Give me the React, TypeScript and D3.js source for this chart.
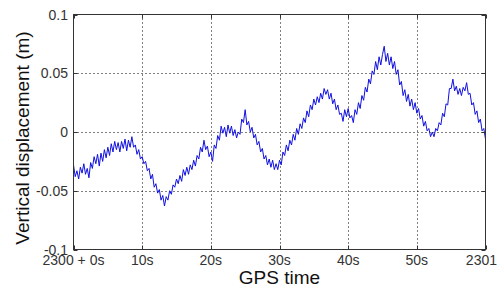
import React, { useRef, useEffect } from 'react';
import * as d3 from 'd3';

// sample step in seconds
const step = 0.25;

// vertical displacement (m), one value every 0.25 s from 2300+0s to 2301
const displacement: number[] = [
  -0.028, -0.038, -0.033, -0.040, -0.030, -0.035, -0.027, -0.036, -0.031, -0.039, -0.026, -0.031, -0.021, -0.027, -0.019, -0.029, -0.018, -0.025, -0.015, -0.022,
  -0.013, -0.020, -0.010, -0.017, -0.008, -0.015, -0.009, -0.017, -0.008, -0.014, -0.006, -0.016, -0.007, -0.013, -0.004, -0.013, -0.011, -0.019, -0.015, -0.023,
  -0.021, -0.027, -0.025, -0.033, -0.031, -0.040, -0.036, -0.047, -0.044, -0.052, -0.049, -0.058, -0.054, -0.063, -0.055, -0.058, -0.050, -0.053, -0.045, -0.047,
  -0.040, -0.044, -0.037, -0.042, -0.032, -0.037, -0.030, -0.036, -0.028, -0.032, -0.024, -0.029, -0.020, -0.023, -0.013, -0.017, -0.007, -0.015, -0.012, -0.021,
  -0.017, -0.025, -0.011, -0.014, -0.003, -0.007, 0.005, -0.001, 0.004, -0.004, 0.006, -0.001, 0.005, -0.003, 0.002, -0.005, 0.000, -0.002, 0.011, 0.008,
  0.019, 0.006, 0.009, 0.000, 0.004, -0.005, -0.002, -0.011, -0.008, -0.017, -0.014, -0.023, -0.020, -0.028, -0.023, -0.030, -0.024, -0.032, -0.027, -0.032,
  -0.024, -0.028, -0.017, -0.020, -0.011, -0.016, -0.007, -0.011, -0.002, -0.007, 0.003, -0.002, 0.007, 0.003, 0.012, 0.008, 0.018, 0.013, 0.023, 0.019,
  0.028, 0.023, 0.030, 0.025, 0.033, 0.028, 0.037, 0.032, 0.036, 0.028, 0.033, 0.024, 0.028, 0.019, 0.023, 0.015, 0.016, 0.009, 0.019, 0.013,
  0.020, 0.012, 0.014, 0.008, 0.019, 0.015, 0.025, 0.020, 0.031, 0.027, 0.038, 0.034, 0.045, 0.041, 0.052, 0.049, 0.060, 0.053, 0.064, 0.057,
  0.066, 0.073, 0.060, 0.067, 0.057, 0.064, 0.054, 0.060, 0.049, 0.053, 0.040, 0.043, 0.031, 0.036, 0.026, 0.032, 0.022, 0.028, 0.019, 0.025,
  0.016, 0.020, 0.011, 0.014, 0.005, 0.009, 0.001, 0.003, -0.004, 0.000, -0.004, 0.003, 0.001, 0.008, 0.006, 0.016, 0.013, 0.024, 0.023, 0.037,
  0.037, 0.045, 0.035, 0.039, 0.032, 0.037, 0.031, 0.038, 0.035, 0.042, 0.032, 0.033, 0.023, 0.025, 0.015, 0.018, 0.008, 0.011, 0.001, 0.003,
  -0.006,
];

const xTicks = [0, 10, 20, 30, 40, 50, 60];
const xTickLabels = ['2300 + 0s', '10s', '20s', '30s', '40s', '50s', '2301'];
const yTicks = [-0.1, -0.05, 0, 0.05, 0.1];
const yTickLabels = ['-0.1', '-0.05', '0', '0.05', '0.1'];

const App: React.FC = () => {
  const svgRef = useRef<SVGSVGElement>(null);

  useEffect(() => {
    if (!svgRef.current) return;
    const W = 498, H = 295;
    const left = 73.5, right = 485.5, top = 14.5, bottom = 249.5;

    const svg = d3.select(svgRef.current).attr('width', W).attr('height', H);
    svg.selectAll('*').remove();
    svg.append('rect').attr('width', W).attr('height', H).attr('fill', '#fff');

    const x = d3.scaleLinear().domain([0, 60]).range([left, right]);
    const y = d3.scaleLinear().domain([-0.1, 0.1]).range([bottom, top]);

    // dotted grid
    const grid = svg.append('g').attr('stroke', '#000').attr('stroke-dasharray', '1,3').attr('stroke-width', 1);
    xTicks.slice(1, -1).forEach(t => {
      grid.append('line').attr('x1', Math.round(x(t)) + 0.5).attr('x2', Math.round(x(t)) + 0.5)
        .attr('y1', top).attr('y2', bottom);
    });
    yTicks.slice(1, -1).forEach(v => {
      grid.append('line').attr('y1', Math.round(y(v)) + 0.5).attr('y2', Math.round(y(v)) + 0.5)
        .attr('x1', left).attr('x2', right);
    });

    // signal
    const line = d3.line<number>()
      .x((_, i) => x(i * step))
      .y(d => y(d));
    svg.append('path')
      .datum(displacement)
      .attr('d', line)
      .attr('fill', 'none')
      .attr('stroke', '#1010e0')
      .attr('stroke-width', 1);

    // box
    svg.append('rect')
      .attr('x', left).attr('y', top)
      .attr('width', right - left).attr('height', bottom - top)
      .attr('fill', 'none').attr('stroke', '#333').attr('stroke-width', 1);

    // inward ticks, MATLAB style
    const tk = svg.append('g').attr('stroke', '#333');
    xTicks.forEach(t => {
      const px = Math.round(x(t)) + 0.5;
      tk.append('line').attr('x1', px).attr('x2', px).attr('y1', bottom).attr('y2', bottom - 4);
      tk.append('line').attr('x1', px).attr('x2', px).attr('y1', top).attr('y2', top + 4);
    });
    yTicks.forEach(v => {
      const py = Math.round(y(v)) + 0.5;
      tk.append('line').attr('x1', left).attr('x2', left + 4).attr('y1', py).attr('y2', py);
      tk.append('line').attr('x1', right).attr('x2', right - 4).attr('y1', py).attr('y2', py);
    });

    const font = 'Liberation Sans, Arial, sans-serif';

    svg.append('g').selectAll('text')
      .data(xTicks)
      .enter().append('text')
      .attr('x', (d, i) => (i === xTicks.length - 1 ? 497 : x(d)))
      .attr('y', 265)
      .attr('text-anchor', (_, i) => (i === xTicks.length - 1 ? 'end' : 'middle'))
      .attr('font-family', font)
      .attr('font-size', 14)
      .attr('fill', '#333')
      .text((_, i) => xTickLabels[i]);

    svg.append('g').selectAll('text')
      .data(yTicks)
      .enter().append('text')
      .attr('x', 68)
      .attr('y', d => y(d) + 5)
      .attr('text-anchor', 'end')
      .attr('font-family', font)
      .attr('font-size', 14)
      .attr('fill', '#333')
      .text((_, i) => yTickLabels[i]);

    svg.append('text')
      .attr('x', (left + right) / 2)
      .attr('y', 284)
      .attr('text-anchor', 'middle')
      .attr('font-family', font)
      .attr('font-size', 19)
      .attr('fill', '#111')
      .text('GPS time');

    svg.append('text')
      .attr('transform', `translate(29,${(top + bottom) / 2 + 6}) rotate(-90)`)
      .attr('text-anchor', 'middle')
      .attr('font-family', font)
      .attr('font-size', 19)
      .attr('fill', '#111')
      .text('Vertical displacement (m)');
  }, []);

  return <svg ref={svgRef} style={{ position: 'absolute', left: 0, top: 0 }} />;
};

export default App;
